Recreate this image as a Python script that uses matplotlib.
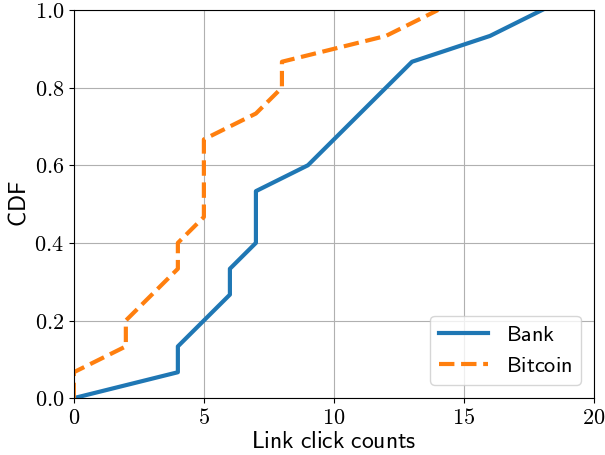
import matplotlib
matplotlib.use("Agg")
import matplotlib.pyplot as plt
from matplotlib.ticker import FuncFormatter

# datos (CDF con pasos de 1/15)
bank_x = [0, 4, 4, 6, 6, 7, 7, 9, 13, 16, 18]
bank_y = [0.0, 0.0667, 0.1333, 0.2667, 0.3333, 0.4, 0.5333, 0.6, 0.8667, 0.9333, 1.0]
btc_x = [0, 0, 2, 2, 4, 4, 5, 5, 7, 8, 8, 12, 14]
btc_y = [0.0, 0.0667, 0.1333, 0.2, 0.3333, 0.4, 0.4667, 0.6667, 0.7333, 0.8, 0.8667, 0.9333, 1.0]
xticks = [0, 5, 10, 15, 20]
yticks = [0.0, 0.2, 0.4, 0.6, 0.8, 1.0]

plt.rcParams['mathtext.fontset'] = 'cm'

fig = plt.figure(figsize=(6.05, 4.55), dpi=100)
ax = fig.add_axes([0.122, 0.125, 0.86, 0.853])

ax.plot(bank_x, bank_y, "-", color="#1f77b4", lw=3, label=r"$\mathsf{Bank}$")
ax.plot(btc_x, btc_y, "--", color="#ff7f0e", lw=3, label=r"$\mathsf{Bitcoin}$")

ax.set_xlim(0, 20)
ax.set_ylim(0, 1)
ax.set_xticks(xticks)
ax.set_yticks(yticks)
ax.xaxis.set_major_formatter(FuncFormatter(lambda v, p: r"$%d$" % v))
ax.yaxis.set_major_formatter(FuncFormatter(lambda v, p: r"$%.1f$" % v))
ax.tick_params(labelsize=16)
ax.grid(True, color="#b0b0b0", lw=0.8)

ax.set_xlabel(r"$\mathsf{Link\ click\ counts}$", fontsize=17, labelpad=1)
ax.set_ylabel(r"$\mathsf{CDF}$", fontsize=17, labelpad=3)

ax.legend(loc="lower right", fontsize=16, handlelength=2.2, borderaxespad=0.6)

fig.savefig("out.png", dpi=100)
